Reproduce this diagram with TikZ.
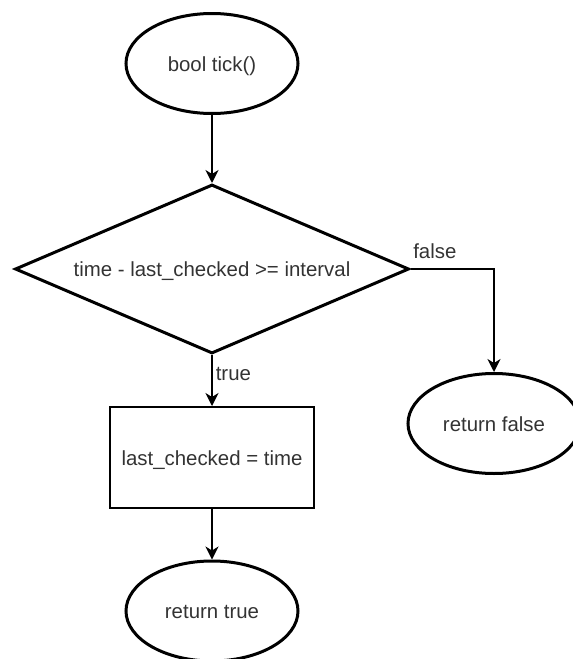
\documentclass[tikz,border=0pt]{standalone}
\usepackage{fontspec}
\setmainfont{Liberation Sans}
\usetikzlibrary{shapes.geometric,arrows.meta}
\definecolor{txt}{rgb}{0.2,0.2,0.2}
\begin{document}
\begin{tikzpicture}[x=1pt,y=-1pt,
  every node/.style={font=\fontsize{20.4}{24}\selectfont, text=txt},
  shapetext/.style={text height=15pt, text depth=0pt, inner sep=0pt},
  terminal/.style={shapetext, draw=black, line width=3pt, ellipse,
    minimum width=172pt, minimum height=100pt},
  decision/.style={shapetext, draw=black, line width=3pt, diamond, aspect=2.33,
    minimum width=394pt, minimum height=169pt},
  process/.style={shapetext, draw=black, line width=2pt, rectangle,
    minimum width=204pt, minimum height=101pt},
  flow/.style={draw=black, line width=1.6pt,
    -{Stealth[length=13pt,width=13pt,inset=4pt]}},
  edgelabel/.style={anchor=base west, inner sep=0pt}
]
\useasboundingbox (0,0) rectangle (573,659);

\node[terminal] (start)    at (212,63.5)  {bool tick()};
\node[decision] (cond)     at (212,269)   {time - last\_checked >= interval};
\node[process]  (assign)   at (212,457.5) {last\_checked = time};
\node[terminal] (rettrue)  at (212,611)   {return true};
\node[terminal] (retfalse) at (494,423.5) {return false};

\draw[flow] (start) -- (cond);
\draw[flow] (cond.east) -| node[at start, edgelabel, xshift=2pt, yshift=11pt] {false} (retfalse.north);
\draw[flow] (cond.south) -- node[at start, edgelabel, xshift=3pt, yshift=-25pt] {true} (assign.north);
\draw[flow] (assign) -- (rettrue);
\end{tikzpicture}
\end{document}
